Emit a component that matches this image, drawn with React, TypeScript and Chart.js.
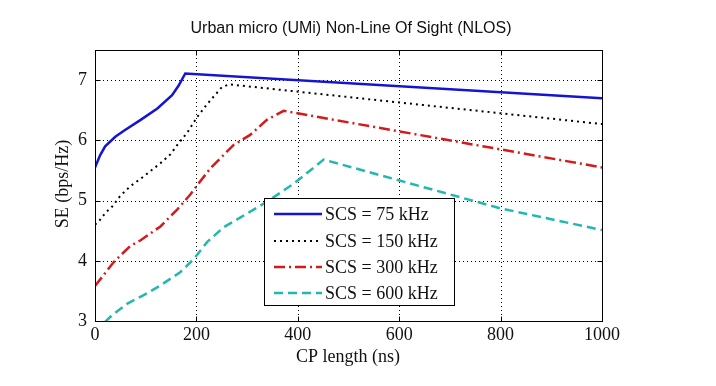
import React, { useEffect, useRef } from 'react';
import { Chart, registerables } from 'chart.js';

Chart.register(...registerables);

const chartTitle = 'Urban micro (UMi) Non-Line Of Sight (NLOS)';
const xLabel = 'CP length (ns)';
const yLabel = 'SE (bps/Hz)';
const xTicks = [0, 200, 400, 600, 800, 1000];
const yTicks = [3, 4, 5, 6, 7];
const xRange = [0, 1000];
const yRange = [3, 7.5];

const names = ['SCS = 75 kHz', 'SCS = 150 kHz', 'SCS = 300 kHz', 'SCS = 600 kHz'];

const cp75 = [0, 10, 20, 40, 57, 90, 123, 152, 165, 178, 1000];
const se75 = [5.55, 5.75, 5.9, 6.06, 6.16, 6.34, 6.53, 6.75, 6.91, 7.11, 6.7];

const cp150 = [0, 8, 21, 34, 50, 70, 96, 129, 149, 162, 182, 201, 221, 250, 264, 1000];
const se150 = [4.6, 4.66, 4.8, 4.9, 5.08, 5.24, 5.4, 5.62, 5.77, 5.92, 6.13, 6.38, 6.6, 6.88, 6.93, 6.27];

const cp300 = [0, 37, 70, 90, 129, 162, 188, 205, 228, 273, 306, 339, 372, 1000];
const se300 = [3.58, 3.98, 4.25, 4.34, 4.57, 4.85, 5.1, 5.29, 5.54, 5.92, 6.09, 6.34, 6.49, 5.55];

const cp600 = [0, 34, 64, 96, 129, 168, 195, 221, 254, 287, 339, 392, 451, 800, 1000];
const se600 = [2.82, 3.1, 3.29, 3.43, 3.59, 3.81, 4.03, 4.31, 4.56, 4.72, 4.98, 5.28, 5.68, 4.87, 4.51];

const colors = ['#1414d2', '#000000', '#d41a1a', '#22b8b0'];
const dashes: number[][] = [[], [2, 4], [11, 4, 2, 4], [9, 5]];
const widths = [2.5, 2, 2.5, 2.5];

const xs = [cp75, cp150, cp300, cp600];
const ys = [se75, se150, se300, se600];

const serif = '"Liberation Serif", "Times New Roman", serif';
const sans = '"Liberation Sans", Arial, sans-serif';

const framePlugin = {
  id: 'matlabFrame',
  beforeDatasetsDraw(chart: any) {
    const { ctx, chartArea: a, scales } = chart;
    ctx.save();
    ctx.strokeStyle = '#000';
    ctx.lineWidth = 1;
    ctx.setLineDash([1, 3]);
    for (const v of xTicks) {
      const px = Math.round(scales.x.getPixelForValue(v)) + 0.5;
      ctx.beginPath();
      ctx.moveTo(px, a.top);
      ctx.lineTo(px, a.bottom);
      ctx.stroke();
    }
    for (const v of yTicks) {
      const py = Math.round(scales.y.getPixelForValue(v)) + 0.5;
      ctx.beginPath();
      ctx.moveTo(a.left, py);
      ctx.lineTo(a.right, py);
      ctx.stroke();
    }
    ctx.restore();
  },
  afterDatasetsDraw(chart: any) {
    const { ctx, chartArea: a, scales } = chart;
    ctx.save();
    ctx.strokeStyle = '#000';
    ctx.lineWidth = 1;
    ctx.setLineDash([]);
    const L = Math.round(a.left) + 0.5;
    const R = Math.round(a.right) + 0.5;
    const T = Math.round(a.top) + 0.5;
    const B = Math.round(a.bottom) + 0.5;
    ctx.strokeRect(L, T, R - L, B - T);
    const tl = 5;
    ctx.beginPath();
    for (const v of xTicks) {
      const px = Math.round(scales.x.getPixelForValue(v)) + 0.5;
      ctx.moveTo(px, B); ctx.lineTo(px, B - tl);
      ctx.moveTo(px, T); ctx.lineTo(px, T + tl);
    }
    for (const v of yTicks) {
      const py = Math.round(scales.y.getPixelForValue(v)) + 0.5;
      ctx.moveTo(L, py); ctx.lineTo(L + tl, py);
      ctx.moveTo(R, py); ctx.lineTo(R - tl, py);
    }
    ctx.stroke();

    // legend
    const lx = 264.5, ly = 198.5, lw = 190, lh = 107;
    ctx.fillStyle = '#fff';
    ctx.fillRect(lx, ly, lw, lh);
    ctx.strokeRect(lx, ly, lw, lh);
    const rows = [214, 241, 267, 293];
    ctx.font = `18px ${serif}`;
    ctx.textBaseline = 'middle';
    ctx.textAlign = 'left';
    names.forEach((n, i) => {
      ctx.save();
      ctx.strokeStyle = colors[i];
      ctx.lineWidth = widths[i];
      ctx.setLineDash(dashes[i]);
      ctx.beginPath();
      ctx.moveTo(274, rows[i]);
      ctx.lineTo(322, rows[i]);
      ctx.stroke();
      ctx.restore();
      ctx.fillStyle = '#111';
      ctx.fillText(n, 325, rows[i] + 1);
    });

    // titles
    ctx.fillStyle = '#111';
    ctx.textAlign = 'center';
    ctx.textBaseline = 'middle';
    ctx.font = `16px ${sans}`;
    ctx.fillText(chartTitle, 351, 29);
    ctx.font = `18px ${serif}`;
    ctx.fillText(xLabel, 348, 357);
    ctx.translate(63, 184);
    ctx.rotate(-Math.PI / 2);
    ctx.fillText(yLabel, 0, 0);
    ctx.restore();
  },
};

export default function App() {
  const ref = useRef<HTMLCanvasElement>(null);
  useEffect(() => {
    if (!ref.current) return;
    const datasets = names.map((n, i) => ({
      label: n,
      data: xs[i].map((x, j) => ({ x, y: ys[i][j] })),
      borderColor: colors[i],
      backgroundColor: colors[i],
      borderWidth: widths[i],
      borderDash: dashes[i],
      pointRadius: 0,
      tension: 0,
      fill: false,
    }));
    const chart = new Chart(ref.current, {
      type: 'line',
      data: { datasets },
      options: {
        animation: false,
        responsive: false,
        devicePixelRatio: 1,
        layout: { padding: { top: 50, right: 114, bottom: 0, left: 0 } },
        plugins: { legend: { display: false }, title: { display: false }, tooltip: { enabled: false } },
        scales: {
          x: {
            type: 'linear',
            min: xRange[0],
            max: xRange[1],
            afterBuildTicks: (s: any) => { s.ticks = xTicks.map((v) => ({ value: v })); },
            afterFit: (s: any) => { s.height = 65; },
            grid: { display: false, drawTicks: false },
            border: { display: false },
            ticks: {
              color: '#111',
              font: { family: serif, size: 18 },
              padding: 3,
              maxRotation: 0,
              autoSkip: false,
              callback: (v: any) => String(v),
            },
          },
          y: {
            type: 'linear',
            min: yRange[0],
            max: yRange[1],
            afterBuildTicks: (s: any) => { s.ticks = yTicks.map((v) => ({ value: v })); },
            afterFit: (s: any) => { s.width = 95; },
            grid: { display: false, drawTicks: false },
            border: { display: false },
            ticks: {
              color: '#111',
              font: { family: serif, size: 18 },
              padding: 8,
              autoSkip: false,
              callback: (v: any) => String(v),
            },
          },
        },
      },
      plugins: [framePlugin],
    });
    return () => chart.destroy();
  }, []);
  return (
    <div style={{ position: 'absolute', left: 0, top: 0, width: 716, height: 386, background: '#fff' }}>
      <canvas ref={ref} width={716} height={386} style={{ display: 'block' }} />
    </div>
  );
}
